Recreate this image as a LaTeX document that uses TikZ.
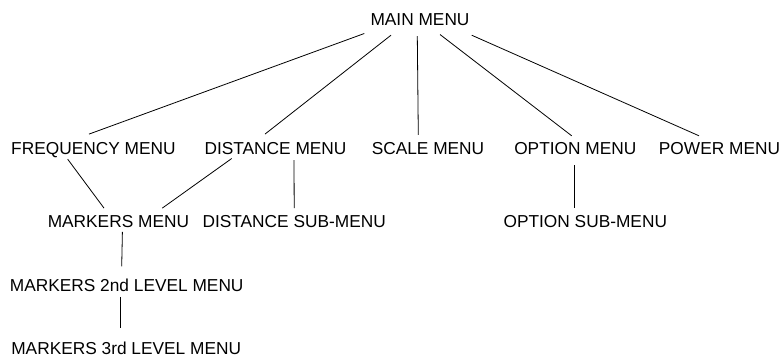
\documentclass[tikz,border=0pt]{standalone}
\usepackage{fontspec}
\setmainfont{Liberation Sans}
\usetikzlibrary{calc}

\newcommand{\menufont}{\fontsize{17.3bp}{20bp}\selectfont}
\tikzset{
  menu/.style={anchor=base, inner sep=0pt, text height=12.4bp, text depth=0pt, font=\menufont},
  link/.style={line width=0.8bp}
}

\begin{document}
\begin{tikzpicture}[x=1bp,y=-1bp]
\useasboundingbox (0,0) rectangle (782,358);
% menu names
\node (main) at (420,25) [menu] {MAIN MENU};
\node (freq) at (93.4,154) [menu] {FREQUENCY MENU};
\node (dist) at (275.5,154) [menu] {DISTANCE MENU};
\node (scale) at (428,154) [menu] {SCALE MENU};
\node (option) at (575.3,154) [menu] {OPTION MENU};
\node (power) at (719.5,154) [menu] {POWER MENU};
\node (markers) at (118.4,227.5) [menu] {MARKERS MENU};
\node (distsub) at (294.2,227.5) [menu] {DISTANCE SUB-MENU};
\node (optsub) at (585.3,227.5) [menu] {OPTION SUB-MENU};
\node (second) at (126.7,291) [menu] {MARKERS 2nd LEVEL MENU};
\node (third) at (126.2,354.5) [menu] {MARKERS 3rd LEVEL MENU};
% lines from the main menu
\draw[link] ($(main.south)+(-55.7,8.3)$) -- ($(freq.north)+(-4.4,-7.3)$);
\draw[link] ($(main.south)+(-29,10)$) -- ($(dist.north)+(-10.5,-7.3)$);
\draw[link] ($(main.south)+(-2.7,11)$) -- ($(scale.north)+(-9.7,-6.6)$);
\draw[link] ($(main.south)+(20,9.3)$) -- ($(option.north)+(-3.6,-5.6)$);
\draw[link] ($(main.south)+(51.7,10)$) -- ($(power.north)+(-20.5,-5.6)$);
% lower levels
\draw[link] ($(freq.south)+(-25.7,5)$) -- ($(markers.north)+(-14.4,-6.8)$);
\draw[link] ($(dist.south)+(-43.8,4.3)$) -- ($(markers.north)+(43.9,-6.8)$);
\draw[link] ($(dist.south)+(18.5,6)$) -- ($(distsub.north)+(0,-6.8)$);
\draw[link] ($(option.south)+(-1.3,11)$) -- ($(optsub.north)+(-11.3,-7)$);
\draw[link] ($(markers.south)+(4,4.2)$) -- ($(second.north)+(-5,-12)$);
\draw[link] ($(second.south)+(-6,5.7)$) -- ($(third.north)+(-5.5,-13.8)$);
\end{tikzpicture}
\end{document}
